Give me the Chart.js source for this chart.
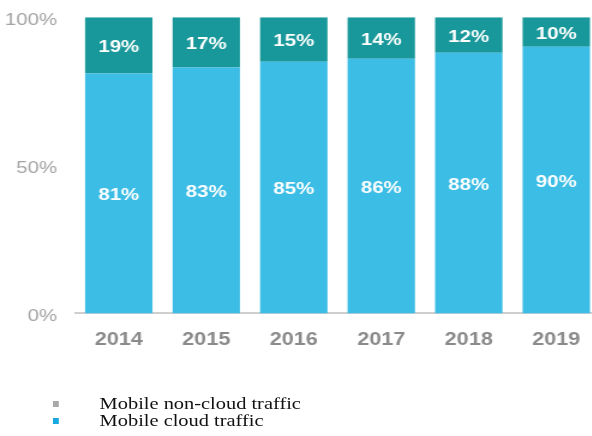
<!DOCTYPE html>
<html>
<head>
<meta charset="utf-8">
<script src="https://cdn.jsdelivr.net/npm/chart.js@4"></script>
<style>
  html, body { margin: 0; padding: 0; background: #fff; overflow: hidden; }
  /* the whole figure is drawn a little narrow and widened by 1.2 */
  #wrap { position: relative; width: 500px; height: 436px; transform: scaleX(1.2); transform-origin: 0 0; }
  #legend { position: absolute; left: 44px; top: 395px; font-family: "Liberation Serif", "Times New Roman", serif; font-size: 17px; color: #111; line-height: 17px; }
  #legend div { white-space: nowrap; }
  #legend span { display: inline-block; width: 5px; height: 6px; margin: 0 34px 2px 0; }
</style>
</head>
<body>
<div id="wrap">
  <canvas id="myChart" width="500" height="436"></canvas>
  <div id="legend"></div>
</div>
<script>
const years = ['2014', '2015', '2016', '2017', '2018', '2019']
const cloud = [81, 83, 85, 86, 88, 90]
const nonCloud = [19, 17, 15, 14, 12, 10]
const yTicks = [0, 50, 100]

// white value labels in the middle of each stacked segment
const segmentLabels = {
    id: 'segmentLabels',
    afterDatasetsDraw(chart) {
        const c = chart.ctx
        c.save()
        c.fillStyle = '#ffffff'
        c.font = 'bold 17px "Liberation Sans", Arial, sans-serif'
        c.textAlign = 'center'
        c.textBaseline = 'middle'
        chart.data.datasets.forEach((ds, i) => {
            chart.getDatasetMeta(i).data.forEach((bar, j) => {
                const p = bar.getProps(['x', 'y', 'base'], true)
                c.fillText(ds.data[j] + '%', p.x, (p.y + p.base) / 2 + 2)
            })
        })
        c.restore()
    }
}

const chart = new Chart(document.getElementById('myChart'), {
    type: 'bar',
    data: {
        labels: years,
        datasets: [{
            label: 'Mobile cloud traffic',
            data: cloud,
            backgroundColor: '#3bbde5',
            legendColor: '#16a9e0',
            barPercentage: 0.77,
            categoryPercentage: 1
        },
        {
            label: 'Mobile non-cloud traffic',
            data: nonCloud,
            backgroundColor: '#18989a',
            legendColor: '#a9a9a9',
            barPercentage: 0.77,
            categoryPercentage: 1
        }]
    },
    options: {
        responsive: false,
        animation: false,
        layout: {
            padding: { top: 2, bottom: 77, left: 0, right: 0 }
        },
        plugins: {
            legend: { display: false },
            tooltip: { enabled: false }
        },
        scales: {
            x: {
                stacked: true,
                grid: { display: false },
                border: { color: '#cfcfcf', width: 2 },
                ticks: {
                    color: '#8a8a8a',
                    padding: 8,
                    font: { family: '"Liberation Sans", Arial, sans-serif', size: 18, weight: 'bold' }
                }
            },
            y: {
                stacked: true,
                min: 0,
                max: 100,
                afterFit(scale) { scale.width = 62.5 },
                afterBuildTicks(scale) { scale.ticks = yTicks.map(v => ({ value: v })) },
                grid: { display: false },
                border: { display: false },
                ticks: {
                    color: '#a3a3a3',
                    padding: 7,
                    labelOffset: 3,
                    font: { family: '"Liberation Sans", Arial, sans-serif', size: 17 },
                    callback: v => v + '%'
                }
            }
        }
    },
    plugins: [segmentLabels]
})

// legend lists non-cloud first, each on its own line
const legend = document.getElementById('legend')
chart.data.datasets.slice().reverse().forEach(ds => {
    const row = document.createElement('div')
    const dot = document.createElement('span')
    dot.style.background = ds.legendColor
    row.appendChild(dot)
    row.appendChild(document.createTextNode(ds.label))
    legend.appendChild(row)
})
</script>
</body>
</html>
